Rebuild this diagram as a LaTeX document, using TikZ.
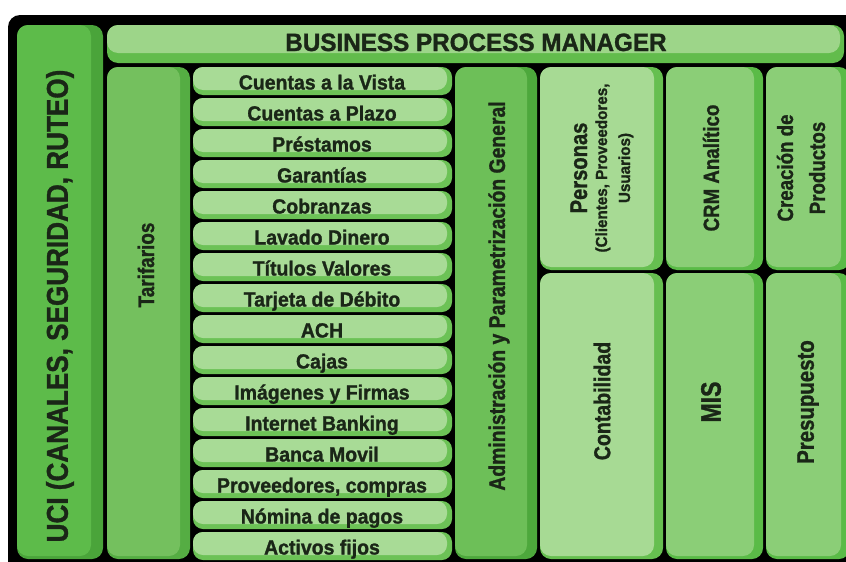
\documentclass[tikz,border=0pt]{standalone}
\usepackage{fontspec}
\usepackage{graphicx}
\setmainfont{Liberation Sans}[BoldFeatures={FakeBold=1.3}]

% colour pairs: face / darker rim
\definecolor{ink}{HTML}{1A2617}
\definecolor{uciface}{HTML}{5DBB4A}
\definecolor{ucirim}{HTML}{4AA43A}
\definecolor{tarface}{HTML}{74C05E}
\definecolor{tarrim}{HTML}{55AD43}
\definecolor{bpmface}{HTML}{9DD589}
\definecolor{bpmrim}{HTML}{62BC4C}
\definecolor{rowface}{HTML}{A8DB96}
\definecolor{rowrim}{HTML}{6CC256}
\definecolor{admface}{HTML}{6DBF58}
\definecolor{admrim}{HTML}{4DA83C}
\definecolor{paleface}{HTML}{A7DA94}
\definecolor{palerim}{HTML}{66BF50}
\definecolor{midface}{HTML}{8BCE77}
\definecolor{midrim}{HTML}{5ABB47}

% horizontally condensed text
\newcommand\narrow[2]{\scalebox{#1}[1]{#2}}

% raised slab: face colour, rim colour, x1, y1, x2, y2, rim width right, rim width bottom
\newcommand\slab[8]{%
  \fill[#2,slabcorner] (#3,#4) rectangle (#5,#6);
  \fill[#1,slabcorner] (#3,#4) rectangle ({#5-#7},{#6-#8});
}

\begin{document}
\begin{tikzpicture}[x=1pt,y=-1pt,
  slabcorner/.style={rounded corners=11pt},
  lbl/.style={text=ink, inner sep=0pt},
  vlbl/.style={lbl, rotate=90},
  rowlabel/.style={lbl, anchor=base, font=\fontsize{20.5}{24}\selectfont\bfseries}]

\useasboundingbox (0,0) rectangle (846,562);
\clip (0,0) rectangle (846,562);
\fill[black, rounded corners=12pt] (8,15) rectangle (890,600);

% outer frame
\slab{uciface}{ucirim}{17}{25}{103}{559}{12}{3}
\slab{bpmface}{bpmrim}{107}{25}{844}{63}{4}{10}
\slab{tarface}{tarrim}{107}{67}{190}{559}{10}{3}
\slab{admface}{admrim}{455}{67}{537}{559}{10}{3}

% right-hand blocks
\slab{paleface}{palerim}{540}{67}{663}{270}{9}{3}
\slab{midface}{midrim}{666}{67}{763}{270}{9}{3}
\slab{midface}{midrim}{766}{67}{850}{270}{9}{3}
\slab{paleface}{palerim}{540}{273}{663}{559}{9}{3}
\slab{midface}{midrim}{666}{273}{763}{559}{9}{3}
\slab{midface}{midrim}{766}{273}{850}{559}{9}{3}

% module stack
\begin{scope}[slabcorner/.style={rounded corners=10pt}]
\foreach \i/\t in {0/Cuentas a la Vista, 1/Cuentas a Plazo, 2/Préstamos,
    3/Garantías, 4/Cobranzas, 5/Lavado Dinero, 6/Títulos Valores,
    7/Tarjeta de Débito, 8/ACH, 9/Cajas, 10/Imágenes y Firmas,
    11/Internet Banking, 12/Banca Movil, 13/{Proveedores, compras},
    14/Nómina de pagos, 15/Activos fijos} {
  \pgfmathsetmacro\rt{67+31*\i}
  \slab{rowface}{rowrim}{193}{\rt}{452}{\rt+28}{5}{5}
  \node[rowlabel] (row\i) at (322,\rt+22.5) {\narrow{0.95}{\t}};
}
\end{scope}

% labels
\node[lbl, anchor=base, font=\fontsize{25}{28}\selectfont\bfseries]
  (bpm) at (476,51) {\narrow{0.97}{BUSINESS PROCESS MANAGER}};
\node[vlbl, font=\fontsize{30}{34}\selectfont\bfseries]
  (uci) at (60,306) {\narrow{0.87}{UCI (CANALES, SEGURIDAD, RUTEO)}};
\node[vlbl, font=\fontsize{22.5}{26}\selectfont\bfseries]
  (tarifarios) at (146,265) {\narrow{0.84}{Tarifarios}};
\node[vlbl, font=\fontsize{22.5}{26}\selectfont\bfseries]
  (admin) at (499,296) {\narrow{0.86}{Administración y Parametrización General}};

\node[vlbl, anchor=base, font=\fontsize{24}{28}\selectfont\bfseries]
  (personas) at (587,168) {\narrow{0.84}{Personas}};
\node[vlbl, anchor=base, font=\fontsize{16}{20}\selectfont\bfseries]
  (personas-a) at (607,168) {\narrow{0.95}{(Clientes, Proveedores,}};
\node[vlbl, anchor=base, font=\fontsize{16}{20}\selectfont\bfseries]
  (personas-b) at (630,168) {\narrow{0.95}{Usuarios)}};
\node[vlbl, font=\fontsize{22}{26}\selectfont\bfseries]
  (crm) at (711,168) {\narrow{0.85}{CRM Analítico}};
\node[vlbl, align=center, font=\fontsize{22}{32}\selectfont\bfseries]
  (creacion) at (801,168) {\narrow{0.85}{Creación de}\\\narrow{0.85}{Productos}};

\node[vlbl, font=\fontsize{23}{26}\selectfont\bfseries]
  (contabilidad) at (602,401) {\narrow{0.85}{Contabilidad}};
\node[vlbl, font=\fontsize{28}{32}\selectfont\bfseries]
  (mis) at (711,402) {\narrow{0.82}{MIS}};
\node[vlbl, font=\fontsize{24}{28}\selectfont\bfseries]
  (presupuesto) at (808,402) {\narrow{0.85}{Presupuesto}};
\end{tikzpicture}
\end{document}
